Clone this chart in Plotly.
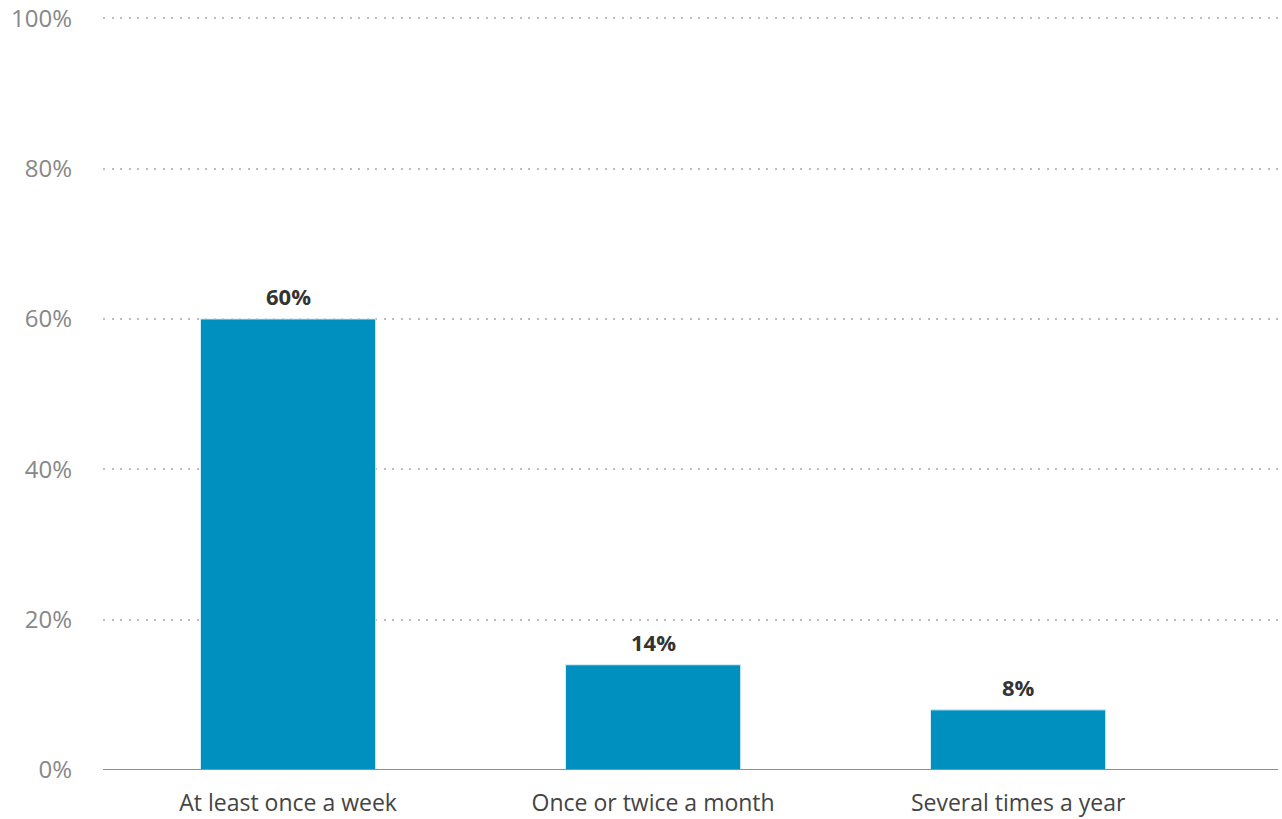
import plotly.graph_objects as go

categories = ["At least once a week", "Once or twice a month", "Several times a year"]
values = [60, 14, 8]
labels = ["60%", "14%", "8%"]
y_ticks = [0, 20, 40, 60, 80, 100]
y_tick_labels = ["0%", "20%", "40%", "60%", "80%", "100%"]

FONT = "Open Sans, Liberation Sans, Arial, sans-serif"

fig = go.Figure()
fig.add_trace(go.Bar(
    x=list(range(len(categories))),
    y=values,
    width=0.48,
    marker=dict(color="#0090C0", line=dict(color="#d8eef6", width=1)),
    hoverinfo="skip",
))

for i, (v, t) in enumerate(zip(values, labels)):
    fig.add_annotation(
        x=i, y=v, text="<b>" + t + "</b>", showarrow=False,
        yanchor="bottom", yshift=6,
        font=dict(family=FONT, size=22, color="#333333"),
    )

fig.update_layout(
    width=1282, height=819,
    margin=dict(l=103, r=4, t=16, b=49),
    plot_bgcolor="white", paper_bgcolor="white",
    showlegend=False,
    bargap=0,
)
fig.update_xaxes(
    range=[-0.507, 2.712],
    tickmode="array",
    tickvals=list(range(len(categories))),
    ticktext=categories,
    showgrid=False, zeroline=False, showline=False, ticks="",
    ticklabelstandoff=17,
    tickfont=dict(family=FONT, size=23, color="#444444"),
    automargin=False,
    fixedrange=True,
)
fig.update_yaxes(
    range=[0, 100.3],
    tickmode="array",
    tickvals=y_ticks,
    ticktext=y_tick_labels,
    showgrid=True, gridcolor="#bdbdbd", griddash="2px,6.5px", gridwidth=2,
    zeroline=False, showline=False, ticks="",
    ticklabelstandoff=30,
    ticklabeloverflow="allow",
    tickfont=dict(family=FONT, size=24, color="#888888"),
    automargin=False,
    fixedrange=True,
)
fig.add_shape(type="line", xref="paper", yref="y", x0=0, x1=1, y0=0, y1=0,
              line=dict(color="#8f8f8f", width=2), layer="above")

fig.write_html(
    "out.html",
    config={"displayModeBar": False, "staticPlot": True},
    post_script="document.body.style.margin='0';document.body.style.overflow='hidden';",
)
